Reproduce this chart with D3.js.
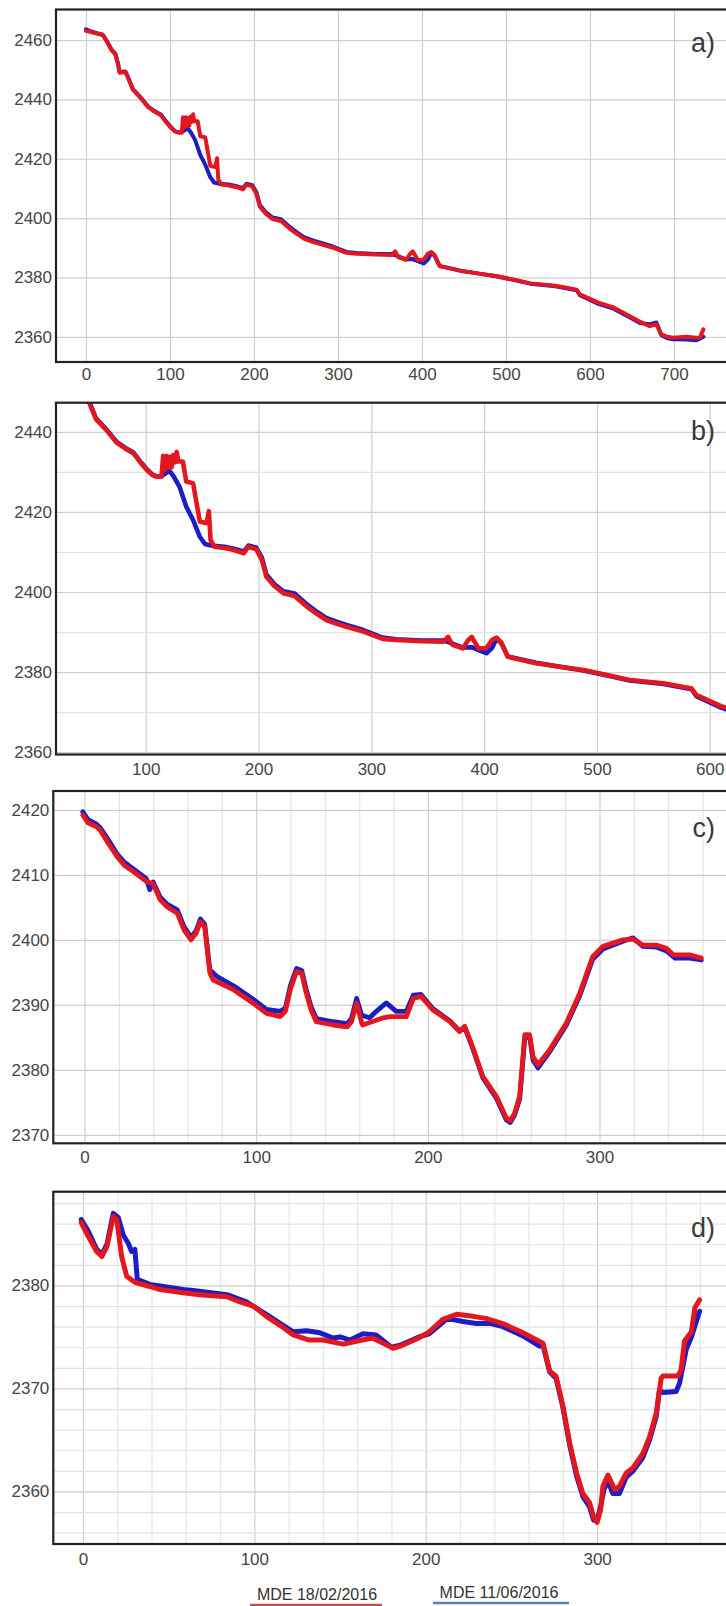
<!DOCTYPE html>
<html>
<head>
<meta charset="utf-8">
<script src="https://cdn.jsdelivr.net/npm/d3@7"></script>
<style>
  body { margin: 0; background: #fff; }
  text { font-family: "Liberation Sans", Arial, sans-serif; }
</style>
</head>
<body>
<script>
// profiles a) and b) share the same transect, b) is a zoom of a)
const redAB = [[0,2463.1],[5,2462.8],[12,2462.3],[20,2461.7],[25,2459.5],[30,2456.8],[35,2455.2],[38,2452],[40,2449],[47,2449.2],[50,2447.3],[56,2443.2],[65,2440.5],[74,2437.4],[82,2435.8],[89,2434.7],[95,2432.5],[101,2430.5],[106,2429.2],[110,2428.8],[114,2428.8],[115.5,2434],[117,2430.5],[118.5,2434],[120,2431],[121.5,2433.8],[123,2431.2],[124.5,2434.2],[126,2432.4],[127.5,2435],[129,2432.6],[133,2432.6],[136,2427.6],[142,2427.2],[148,2417.6],[154,2417.2],[156,2420.2],[157.5,2413],[161,2411.3],[170,2411],[178,2410.5],[187,2409.7],[191,2411.3],[198,2410.7],[203,2408],[207,2403.8],[214,2401.5],[222,2399.7],[232,2399],[243,2396.3],[252,2394.5],[260,2393],[270,2392],[278,2391.3],[293,2390.1],[310,2388.3],[322,2388],[345,2387.7],[364,2387.6],[368,2388.8],[372,2386.8],[381,2385.9],[386,2388],[389,2388.8],[395,2385.9],[402,2386],[407,2388],[411,2388.6],[415,2387.5],[421,2383.8],[446,2382.2],[470,2381.2],[488,2380.5],[510,2379.2],[529,2378],[559,2377.2],[584,2375.9],[588,2374.3],[610,2371.5],[627,2370],[647,2367],[660,2365],[671,2363.6],[679,2364.2],[685,2360.8],[692,2360],[699,2359.7],[715,2360],[726,2359.7],[731,2359.8],[735,2362.5]];
const blueAB = [[0,2463.6],[5,2463],[12,2462.4],[20,2461.8],[25,2459.6],[30,2457],[35,2455.4],[38,2452.2],[40,2449.2],[47,2449.4],[50,2447.5],[56,2443.4],[65,2440.7],[74,2437.6],[82,2436],[89,2434.9],[95,2432.7],[101,2430.7],[106,2429.3],[110,2428.9],[114,2429],[117,2429.5],[121,2430.3],[124.5,2429],[130,2426.3],[136,2421.3],[142,2418],[148,2413.8],[152.5,2412],[158,2411.6],[170,2411.3],[178,2410.8],[187,2410.1],[191,2411.6],[198,2411.1],[203,2408.6],[207,2404.4],[214,2402],[222,2400.2],[232,2399.6],[243,2396.9],[252,2395],[260,2393.5],[270,2392.5],[278,2391.8],[293,2390.5],[310,2388.6],[322,2388.2],[345,2387.9],[364,2387.9],[372,2387.1],[381,2386.1],[389,2386.2],[395,2385.5],[402,2384.7],[407,2386],[411,2388.3],[415,2387.3],[421,2383.9],[446,2382.3],[470,2381.2],[488,2380.4],[510,2379.1],[529,2377.9],[559,2377],[584,2375.7],[588,2374],[610,2371.1],[627,2369.6],[647,2366.6],[660,2364.6],[671,2364.2],[679,2364.8],[685,2360.5],[692,2359.5],[699,2359.2],[715,2359.1],[726,2358.8],[731,2359.4],[735,2360]];

const redC = [[-1,2419.2],[2,2418],[7,2417.4],[9,2416.9],[14,2414.8],[19,2412.8],[23,2411.5],[30,2410.2],[36,2409],[40,2408.6],[44,2406.2],[48,2405.1],[54,2404.1],[58,2401.5],[62,2400],[65,2401],[67.5,2402.8],[70,2402],[73,2394.9],[75,2393.8],[87,2392.3],[98,2390.3],[106,2388.7],[114,2388.2],[117,2389],[120,2392.5],[123.5,2395.1],[126.5,2394.9],[129,2392],[132,2389.2],[135,2387.4],[145,2386.9],[153,2386.6],[155.5,2387.4],[158.5,2390.3],[161.5,2387.2],[162,2386.9],[174,2388],[178,2388.2],[187.5,2388.2],[191.5,2391],[196,2391.3],[203,2389.2],[213,2387.4],[218.5,2385.9],[221.5,2386.7],[226,2383.6],[232,2379],[240,2375.9],[245.7,2372.6],[248,2372.2],[250.5,2373.3],[253.5,2375.9],[256.5,2385.4],[259.3,2385.4],[261.3,2382],[264.2,2380.8],[271,2383.1],[280.7,2387.2],[288.5,2391.8],[296,2397.4],[302,2399],[313.7,2400],[319.5,2400.1],[325.3,2399.2],[333,2399.2],[339,2398.7],[343,2397.7],[352.5,2397.7],[359.3,2397.2]];
const blueC = [[-1,2419.7],[2,2418.5],[7,2417.8],[9,2417.3],[14,2415.3],[19,2413.2],[23,2412],[30,2410.6],[36,2409.4],[38,2407.7],[40,2408.9],[44,2406.6],[48,2405.5],[54,2404.6],[58,2402],[62,2400.4],[65,2401.4],[67.5,2403.2],[70,2402.4],[73,2395.4],[77,2394.4],[87,2392.9],[98,2390.9],[106,2389.3],[114,2389],[117,2389.5],[120,2393],[123.5,2395.6],[126.5,2395.3],[129,2392.5],[132,2389.7],[135,2387.9],[145,2387.4],[153,2387.1],[155.5,2387.9],[158.5,2391],[161.5,2388.4],[166,2388],[170,2389],[175.8,2390.3],[181.6,2389],[187.5,2389],[191.5,2391.5],[196,2391.6],[203,2389.4],[213,2387.5],[218.5,2386],[221.5,2386.5],[226,2383.4],[232,2378.8],[240,2375.6],[245.7,2372.3],[248,2371.9],[250.5,2373],[253.5,2375.5],[256.5,2385],[259.3,2385.1],[261.3,2381.5],[264.2,2380.3],[271,2382.8],[280.7,2386.9],[288.5,2391.4],[296,2397],[302,2398.6],[313.7,2399.8],[319.5,2400.3],[325.3,2399],[333,2398.9],[339,2398.3],[344,2397.2],[352.5,2397.2],[359.3,2396.9]];

const redD = [[-1,2386.1],[3,2384.8],[8,2383.3],[11,2382.8],[14,2383.8],[17.7,2386.7],[19.7,2386.4],[22.6,2382.8],[25.5,2380.9],[30.3,2380.3],[39,2379.9],[45,2379.6],[58.5,2379.3],[68,2379.1],[84,2378.9],[91.6,2378.4],[99.4,2378],[107,2377],[117,2375.9],[122.7,2375.2],[132,2374.7],[140,2374.7],[152,2374.3],[163,2374.7],[169,2374.9],[181,2373.9],[185,2374.1],[196,2374.9],[202,2375.5],[210,2376.7],[218,2377.2],[227.5,2377],[235,2376.8],[245,2376.3],[256.7,2375.4],[268.4,2374.4],[272.3,2371.7],[276,2371.2],[280,2368.3],[284,2364.7],[288,2361.8],[291.7,2359.8],[295.6,2358.9],[298,2357.5],[300,2357],[302,2358.2],[303.4,2360.5],[306.3,2361.6],[310.2,2360.2],[313,2360.5],[317,2361.8],[321,2362.3],[326.7,2363.7],[330.6,2365.3],[334.5,2367.6],[337.4,2371],[338.4,2371.2],[347,2371.2],[349,2371.8],[351,2374.6],[355,2375.5],[357,2377.8],[359.8,2378.6]];
const blueD = [[-1,2386.4],[3,2385.3],[8,2383.5],[11,2383],[14,2384],[17.7,2387],[20.6,2386.6],[23.5,2384.9],[26.4,2384.1],[28.4,2383.3],[30.3,2383.5],[31.7,2380.6],[39,2380.1],[47,2379.9],[58.5,2379.6],[64.4,2379.5],[84,2379.1],[95.4,2378.4],[107,2377.2],[117,2376.1],[122.7,2375.5],[130.5,2375.6],[138.3,2375.4],[146,2374.9],[150,2375],[155.8,2374.7],[163.4,2375.3],[171,2375.2],[180,2374],[185,2374.2],[196,2375],[202,2375.3],[212,2376.7],[216,2376.7],[221.7,2376.5],[229.5,2376.3],[238,2376.3],[245,2376],[256.7,2375.1],[266.4,2374.1],[268.4,2374.2],[272.3,2371.6],[276,2371],[280,2368.2],[284,2364.5],[288,2361.5],[291.7,2359.5],[295.6,2358.5],[298,2357.2],[300,2357.2],[302,2358.5],[304,2360.2],[306.3,2361],[309.2,2359.8],[313,2359.8],[317,2361.4],[321,2362],[326.7,2363.3],[330.6,2365],[334.5,2367.3],[336.4,2369.9],[338.4,2369.6],[346.1,2369.7],[348.1,2370.5],[352,2373.8],[355,2375],[359.8,2377.5]];

// tick labels and grid positions
const xTicksA = [0, 100, 200, 300, 400, 500, 600, 700];
const yTicksA = [2360, 2380, 2400, 2420, 2440, 2460];
const xTicksB = [100, 200, 300, 400, 500, 600];
const yTicksB = [2360, 2380, 2400, 2420, 2440];
const yGridB = [2360, 2370, 2380, 2390, 2400, 2410, 2420, 2430, 2440];
const xTicksCD = [0, 100, 200, 300];
const xGridCD = d3.range(0, 361, 20);
const yTicksC = [2370, 2380, 2390, 2400, 2410, 2420];
const yTicksD = [2360, 2370, 2380];
const yGridD = d3.range(2356, 2389, 2);

const legendLabels = ["MDE 18/02/2016", "MDE 11/06/2016"];

const redCol = "#e3171d";
const blueCol = "#1d1dc6";

let w = 726;
let h = 1606;
let svg = d3.select("body").append("svg").attr("width", w).attr("height", h);
let defs = svg.append("defs");

const panels = [
  { id: "a", red: redAB, blue: blueAB, left: 56, right: 726, top: 9.5, bottom: 362,
    xDom: [-35.7, 761.9], yDom: [2351.5, 2470.3], xTicks: xTicksA, yTicks: yTicksA,
    xGrid: xTicksA, yGrid: yTicksA, xPad: 6, lw: 4, label: "a)", labelY: 52 },
  { id: "b", red: redAB, blue: blueAB, left: 56, right: 726, top: 402.7, bottom: 754.5,
    xDom: [20.5, 614.4], yDom: [2359.4, 2447.3], xTicks: xTicksB, yTicks: yTicksB,
    xGrid: xTicksB, yGrid: yGridB, xPad: 8, lw: 4.6, label: "b)", labelY: 440 },
  { id: "c", red: redC, blue: blueC, left: 53.3, right: 726, top: 791, bottom: 1143.3,
    xDom: [-18.2, 373.7], yDom: [2368.7, 2422.9], xTicks: xTicksCD, yTicks: yTicksC,
    xGrid: xGridCD, yGrid: yTicksC, xPad: 7.5, lw: 4.8, label: "c)", labelY: 837 },
  { id: "d", red: redD, blue: blueD, left: 53.3, right: 726, top: 1191.7, bottom: 1544,
    xDom: [-17.3, 375.2], yDom: [2354.9, 2389.1], xTicks: xTicksCD, yTicks: yTicksD,
    xGrid: xGridCD, yGrid: yGridD, xPad: 8.5, lw: 5, label: "d)", labelY: 1237 }
];

function drawPanel(p) {
  let xScale = d3.scaleLinear().domain(p.xDom).range([p.left, p.right]);
  let yScale = d3.scaleLinear().domain(p.yDom).range([p.bottom, p.top]);
  let pw = p.right - p.left;
  let ph = p.bottom - p.top;
  let g = svg.append("g").attr("id", "panel-" + p.id);

  defs.append("clipPath").attr("id", "clip-" + p.id)
    .append("rect")
    .attr("x", p.left).attr("y", p.top)
    .attr("width", pw).attr("height", ph);

  // grid lines, labelled ones a bit darker
  g.append("g")
    .attr("class", "grid x")
    .attr("transform", "translate(0," + p.bottom + ")")
    .call(d3.axisBottom(xScale).tickValues(p.xGrid).tickSize(-ph).tickFormat(""))
    .call(s => s.select(".domain").remove())
    .selectAll("line")
    .attr("stroke", (d) => p.xTicks.includes(d) ? "#cfcfcf" : "#e6e6e6")
    .attr("stroke-width", 1.2);

  g.append("g")
    .attr("class", "grid y")
    .attr("transform", "translate(" + p.left + ",0)")
    .call(d3.axisLeft(yScale).tickValues(p.yGrid).tickSize(-pw).tickFormat(""))
    .call(s => s.select(".domain").remove())
    .selectAll("line")
    .attr("stroke", (d) => p.yTicks.includes(d) ? "#cfcfcf" : "#e3e3e3")
    .attr("stroke-width", 1.2);

  let line = d3.line()
    .x((d) => xScale(d[0]))
    .y((d) => yScale(d[1]));

  let lines = g.append("g").attr("clip-path", "url(#clip-" + p.id + ")");
  [[p.blue, blueCol], [p.red, redCol]].forEach(([data, col]) => {
    lines.append("path")
      .datum(data)
      .attr("d", line)
      .attr("fill", "none")
      .attr("stroke", col)
      .attr("stroke-width", p.lw)
      .attr("stroke-linejoin", "round")
      .attr("stroke-linecap", "round");
  });

  // frame, right side runs off the picture
  g.append("rect")
    .attr("x", p.left).attr("y", p.top)
    .attr("width", pw + 20).attr("height", ph)
    .attr("fill", "none")
    .attr("stroke", "#222")
    .attr("stroke-width", 2.2);

  let yAxis = g.append("g")
    .attr("transform", "translate(" + p.left + ",0)")
    .call(d3.axisLeft(yScale).tickValues(p.yTicks).tickSize(0).tickPadding(4).tickFormat(d3.format("d")));
  let xAxis = g.append("g")
    .attr("transform", "translate(0," + p.bottom + ")")
    .call(d3.axisBottom(xScale).tickValues(p.xTicks).tickSize(0).tickPadding(p.xPad).tickFormat(d3.format("d")));
  [yAxis, xAxis].forEach((ax) => {
    ax.select(".domain").remove();
    ax.selectAll("text")
      .attr("font-size", "17px")
      .attr("fill", "#454545")
      .style("font-family", "'Liberation Sans', Arial, sans-serif");
  });

  g.append("text")
    .attr("x", 715)
    .attr("y", p.labelY)
    .attr("text-anchor", "end")
    .attr("font-size", "27px")
    .attr("fill", "#3a3a3a")
    .text(p.label);
}

panels.forEach(drawPanel);

// legend
const legendCols = ["#c0504d", "#4f81bd"];
const legendX = [317, 499];
const legendLineX = [[250, 382], [433, 569]];
const legendY = [1600, 1598];
legendLabels.forEach((lab, i) => {
  svg.append("text")
    .attr("x", legendX[i])
    .attr("y", legendY[i])
    .attr("text-anchor", "middle")
    .attr("font-size", "16px")
    .attr("fill", "#333")
    .text(lab);
  svg.append("line")
    .attr("x1", legendLineX[i][0]).attr("x2", legendLineX[i][1])
    .attr("y1", legendY[i] + 5).attr("y2", legendY[i] + 5)
    .attr("stroke", legendCols[i])
    .attr("stroke-width", 2.5);
});
</script>
</body>
</html>
